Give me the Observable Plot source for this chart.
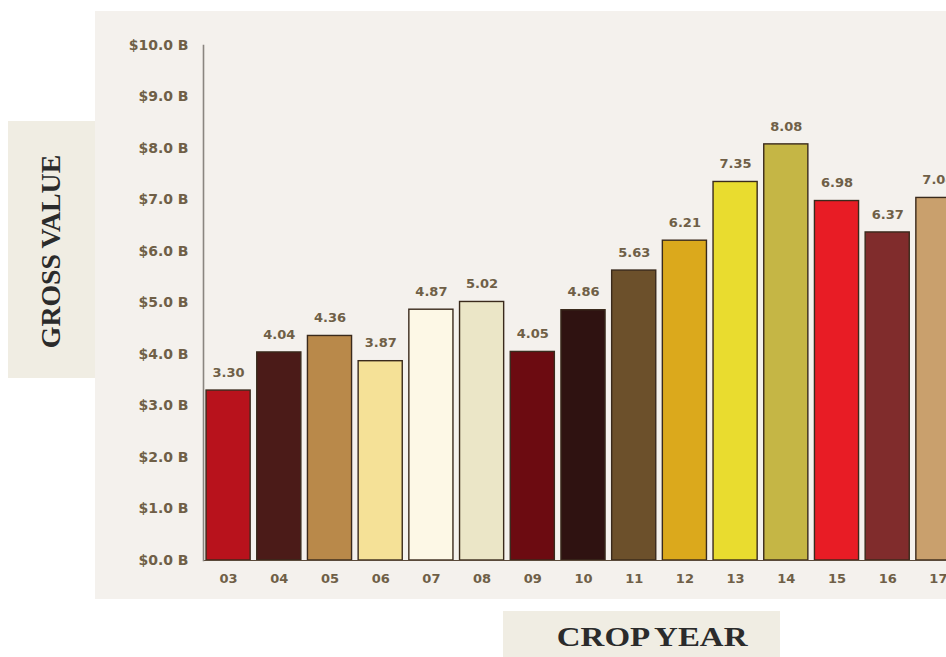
<!DOCTYPE html>
<html>
<head>
<meta charset="utf-8">
<script src="https://cdn.jsdelivr.net/npm/d3@7"></script>
<script src="https://cdn.jsdelivr.net/npm/@observablehq/plot@0.6"></script>
<style>
  html, body { margin: 0; padding: 0; background: #ffffff; overflow: hidden; }
  #wrap { position: relative; width: 946px; height: 657px; overflow: hidden; }
  #panel { position: absolute; left: 95px; top: 11px; width: 851px; height: 588px; background: #f4f1ed; }
  #chart { position: absolute; left: 0; top: 0; }
  #chart svg { background: transparent !important; max-width: none !important; }
  .tbox { position: absolute; background: #f0ede3; display: flex; align-items: center; justify-content: center; }
  .ttext { font-family: "Liberation Serif", "DejaVu Serif", serif; font-weight: bold; color: #2b2b2b; white-space: nowrap; }
  #ylab { left: 8px; top: 121px; width: 87px; height: 257px; }
  #ylab .ttext { font-size: 27px; transform: translateY(2px) rotate(-90deg) scaleX(1.03); word-spacing: -1px; }
  #xlab { left: 503px; top: 611px; width: 277px; height: 46px; }
  #xlab .ttext { font-size: 27px; transform: translateX(11px) scaleX(1.22); word-spacing: -1px; margin-top: 6px; }
</style>
</head>
<body>
<div id="wrap">
  <div id="panel"></div>
  <div id="chart"></div>
  <div class="tbox" id="ylab"><div class="ttext">GROSS VALUE</div></div>
  <div class="tbox" id="xlab"><div class="ttext">CROP YEAR</div></div>
</div>
<script>
const years = ["03","04","05","06","07","08","09","10","11","12","13","14","15","16","17"];
const values = [3.30, 4.04, 4.36, 3.87, 4.87, 5.02, 4.05, 4.86, 5.63, 6.21, 7.35, 8.08, 6.98, 6.37, 7.04];
const colors = ["#b8121c","#4b1b18","#b9894a","#f5e197","#fdf8e6","#ebe6c7","#6c0b11","#2f1211","#6c502b","#dba91c","#e9dc2f","#c5b645","#e81c25","#802c2c","#c9a06d"];
const yTicks = [0,1,2,3,4,5,6,7,8,9,10];

const data = years.map((y, i) => ({year: y, value: values[i], color: colors[i]}));

const labelColor = "#6f5f47";
const font = "'DejaVu Sans', 'Liberation Sans', sans-serif";

const plot = Plot.plot({
  width: 963,
  height: 657,
  marginTop: 45,
  marginBottom: 97,
  marginLeft: 203,
  marginRight: 0,
  style: {background: "transparent", fontFamily: font, overflow: "hidden"},
  x: {domain: years, paddingInner: 0.13, paddingOuter: 0.06, round: false, label: null},
  y: {domain: [0, 10], label: null},
  color: {type: "identity"},
  marks: [
    Plot.barY(data, {x: "year", y: "value", fill: "color", stroke: "#3a2a1c", strokeWidth: 1.4}),
    Plot.ruleY([0], {stroke: "#5a4a3a", strokeWidth: 1.2}),
    Plot.frame({anchor: "left", stroke: "#8a8580", strokeWidth: 1.6}),
    Plot.axisY({ticks: yTicks, tickSize: 0, tickPadding: 15, tickFormat: d => `$${d.toFixed(1)} B`,
      fontSize: 14, fontWeight: "bold", fill: labelColor, label: null}),
    Plot.axisX({tickSize: 0, tickPadding: 13, fontSize: 13, fontWeight: "bold", fill: labelColor, label: null}),
    Plot.text(data, {x: "year", y: "value", text: d => d.value.toFixed(2), dy: -18, fontSize: 13, fontWeight: "bold", fill: labelColor})
  ]
});
document.getElementById("chart").appendChild(plot);
</script>
</body>
</html>
